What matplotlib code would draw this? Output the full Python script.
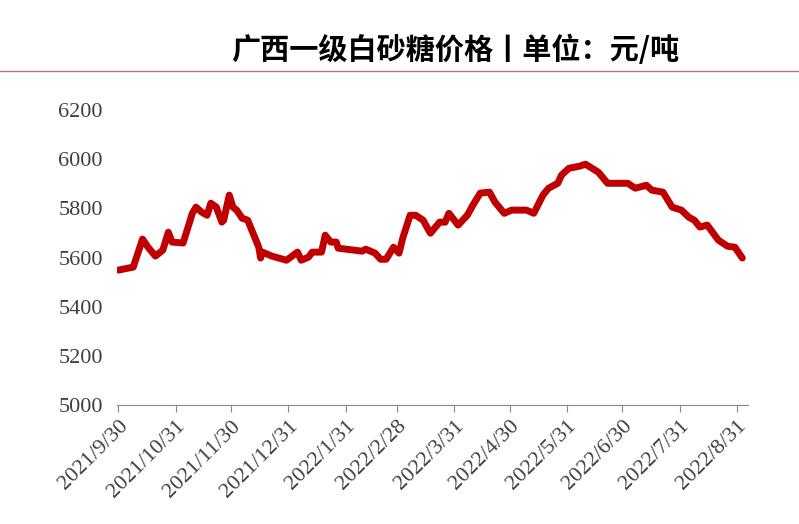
import numpy as np
import pandas as pd
import matplotlib
matplotlib.use("Agg")
import matplotlib.pyplot as plt
from matplotlib.lines import Line2D

plt.rcParams['font.family'] = ['Noto Sans CJK SC', 'DejaVu Sans']

# days after 2021-09-30 and price (yuan/ton)
days = [0, 8, 13, 16, 20, 24, 27, 29, 35, 40, 42, 45, 48, 50, 53, 56, 57, 60, 62, 64,
        67, 70, 76, 77, 78, 83, 91, 97, 99, 103, 105, 110, 112, 115, 118, 119, 132, 134,
        139, 142, 145, 149, 152, 154, 158, 161, 165, 169, 174, 177, 179, 184, 189, 192,
        196, 201, 204, 209, 213, 221, 225, 230, 233, 238, 240, 244, 250, 253, 260, 265,
        276, 280, 286, 289, 295, 300, 305, 309, 312, 315, 319, 325, 330, 334, 338]
price = [5549, 5561, 5675, 5642, 5606, 5630, 5703, 5663, 5659, 5780, 5805, 5785, 5772,
         5821, 5805, 5744, 5752, 5854, 5805, 5793, 5760, 5752, 5642, 5598, 5622, 5606,
         5589, 5622, 5589, 5602, 5622, 5622, 5691, 5663, 5663, 5638, 5626, 5634, 5618,
         5593, 5593, 5642, 5618, 5679, 5772, 5772, 5752, 5699, 5744, 5744, 5780, 5732,
         5772, 5813, 5862, 5866, 5825, 5780, 5793, 5793, 5780, 5854, 5882, 5902, 5935,
         5963, 5972, 5980, 5947, 5902, 5902, 5882, 5894, 5874, 5866, 5805, 5793, 5764,
         5752, 5724, 5732, 5671, 5646, 5642, 5598]
tick_labels = ["2021/9/30", "2021/10/31", "2021/11/30", "2021/12/31", "2022/1/31",
               "2022/2/28", "2022/3/31", "2022/4/30", "2022/5/31", "2022/6/30",
               "2022/7/31", "2022/8/31"]

start = pd.Timestamp("2021-09-30")
tick_days = [(pd.Timestamp(t.replace("/", "-")) - start).days for t in tick_labels]

fig = plt.figure(figsize=(7.99, 5.24), dpi=100)
ax = fig.add_axes([0.146, 0.227, 0.79, 0.563])
ax.plot(days, price, color="#C00000", lw=5, solid_joinstyle="round", solid_capstyle="round")

ax.set_xlim(-1, 341)
ax.set_ylim(5000, 6200)
ax.set_yticks(range(5000, 6201, 200))
ax.set_xticks(tick_days)
ax.set_xticklabels(tick_labels, rotation=45, ha="right", rotation_mode="anchor")
for lab in ax.get_xticklabels() + ax.get_yticklabels():
    lab.set_family("Liberation Serif")
    lab.set_fontsize(16)
    lab.set_color("#404040")
ax.tick_params(axis="y", length=0, pad=10)
ax.tick_params(axis="x", length=5, color="#888888", direction="out")
for s in ["top", "right", "left"]:
    ax.spines[s].set_visible(False)
ax.spines["bottom"].set_color("#888888")

fig.text(0.57, 0.905, "广西一级白砂糖价格丨单位：元/吨", ha="center", va="center",
         fontsize=21, fontweight="bold")
fig.add_artist(Line2D([0, 1], [0.865, 0.865], color="#C07070", lw=1))

fig.savefig("out.png", dpi=100)
